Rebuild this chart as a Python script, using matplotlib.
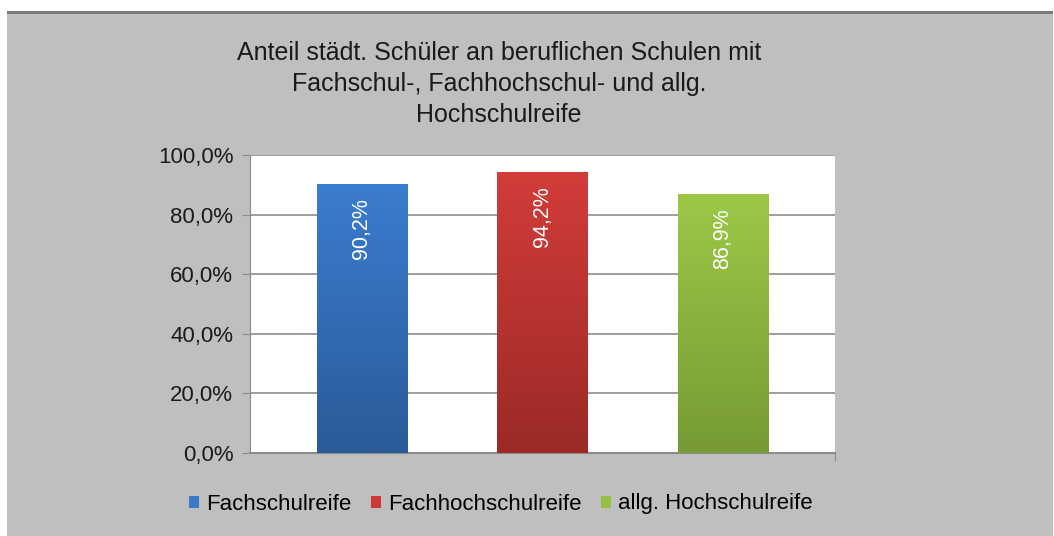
import numpy as np
import matplotlib
matplotlib.use("Agg")
import matplotlib.pyplot as plt
from matplotlib.patches import Rectangle, Patch
from matplotlib.colors import LinearSegmentedColormap

plt.rcParams['font.family'] = ['Liberation Sans', 'DejaVu Sans']

# data
categories = ["Fachschulreife", "Fachhochschulreife", "allg. Hochschulreife"]
values = [90.2, 94.2, 86.9]
labels = ["90,2%", "94,2%", "86,9%"]
yticks = [0, 20, 40, 60, 80, 100]
ytick_labels = ["0,0%", "20,0%", "40,0%", "60,0%", "80,0%", "100,0%"]
title = "Anteil städt. Schüler an beruflichen Schulen mit\nFachschul-, Fachhochschul- und allg.\nHochschulreife"

# (top colour, bottom colour) per bar
grad = [("#3b7dd0", "#2b5a98"), ("#d23c39", "#9b2a27"), ("#9dc847", "#779a35")]
legend_cols = ["#3b78c8", "#cc3936", "#94c043"]

W, H = 1054, 536
fig = plt.figure(figsize=(W / 100, H / 100), dpi=100)
fig.patch.set_facecolor("white")

# grey panel with dark top border
fig.patches.append(Rectangle((7 / W, 0), 1046 / W, 1 - 11 / H,
                             transform=fig.transFigure, facecolor="#bfbfbf",
                             edgecolor="none", zorder=0))
fig.patches.append(Rectangle((7 / W, 1 - 14 / H), 1046 / W, 3 / H,
                             transform=fig.transFigure, facecolor="#7a7a7a",
                             edgecolor="none", zorder=1))

ax = fig.add_axes([250 / W, 83 / H, 585 / W, 298 / H])
ax.set_zorder(5)
ax.set_facecolor("white")

x = np.arange(len(categories))
width = 0.5

# bars with a vertical colour gradient
for i, v in enumerate(values):
    cmap = LinearSegmentedColormap.from_list("g%d" % i, [grad[i][1], grad[i][0]])
    g = np.linspace(0, 1, 256).reshape(-1, 1)
    ax.imshow(g, cmap=cmap, origin="lower", aspect="auto",
              extent=(x[i] - width / 2, x[i] + width / 2, 0, v), zorder=3)
    ax.annotate(labels[i], (x[i], v), xytext=(0, -14), textcoords="offset pixels",
                rotation=90, ha="center", va="top", color="white", fontsize=15.5,
                zorder=4)
ax.set_xlim(-0.62, 2.62)
ax.set_ylim(0, 100)

ax.set_yticks(yticks)
ax.set_yticklabels(ytick_labels, fontsize=16, color="#1a1a1a")
ax.set_xticks([2.62])
ax.set_xticklabels([""])
ax.tick_params(axis="x", length=6, color="#8c8c8c")
ax.yaxis.grid(True, color="#8c8c8c", linewidth=1.2)
ax.set_axisbelow(True)
ax.tick_params(axis="y", length=6, color="#8c8c8c", pad=6)
for s in ["top", "right"]:
    ax.spines[s].set_visible(False)
ax.spines["left"].set_color("#8c8c8c")
ax.spines["bottom"].set_color("#8c8c8c")
ax.spines["bottom"].set_linewidth(1.5)

fig.text(499 / W, 1 - 41 / H, title, ha="center", va="top", fontsize=18,
         linespacing=1.36, color="#1a1a1a")

handles = [Patch(facecolor=c, edgecolor="none") for c in legend_cols]
fig.legend(handles, categories, loc="center", bbox_to_anchor=(501 / W, 1 - 504 / H),
           ncol=3, frameon=False, fontsize=16, handlelength=0.45, handleheight=0.45,
           handletextpad=0.3, columnspacing=0.9)

fig.savefig("out.png", dpi=100)
